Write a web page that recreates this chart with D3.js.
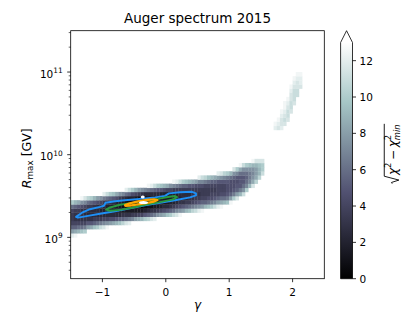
<!DOCTYPE html>
<html>
<head>
<meta charset="utf-8">
<script src="https://cdn.jsdelivr.net/npm/d3@7"></script>
<style>
body { margin: 0; background: #fff; }
text { font-family: "DejaVu Sans", sans-serif; fill: #000; }
</style>
</head>
<body>
<div id="chart"></div>
<script>
var width = 415, height = 332;
var plotLeft = 70.7, plotRight = 324.3, plotTop = 30.7, plotBottom = 278.7;

// grid of the scan: gamma steps and log10(R) steps
var gammaStep = 0.05, logRStep = 0.05;
// one entry per gamma column: [gamma at left edge, log10 R at lower edge, cells bottom -> top]
// letter = sqrt(chi2 - chi2min) in steps of 0.5 (A=0, B=0.5 ... Z=12.5), cells above 13 not stored
var chiColumns = [
    [-1.50, 9.00, "YQLIHHIMU"],
    [-1.45, 9.00, "ZRLIGGHLS"],
    [-1.40, 9.05, "SMIGGHKR"],
    [-1.35, 9.05, "TMIGGGJPZ"],
    [-1.30, 9.05, "UNIGFGIOX"],
    [-1.25, 9.10, "QKGFFHMV"],
    [-1.20, 9.10, "RKGFFHLU"],
    [-1.15, 9.10, "TLHFFGKS"],
    [-1.10, 9.10, "UMHFFFJQ"],
    [-1.05, 9.10, "WNHFEFIP"],
    [-1.00, 9.10, "XOIFEFHNY"],
    [-0.95, 9.10, "ZPIFEEGMW"],
    [-0.90, 9.15, "QJFEEGLU"],
    [-0.85, 9.15, "RJFDDFKT"],
    [-0.80, 9.15, "SKFDDEJR"],
    [-0.75, 9.15, "TLFDDEHP"],
    [-0.70, 9.15, "VLGDCDGO"],
    [-0.65, 9.15, "XMGDCCFMY"],
    [-0.60, 9.15, "YNGDCCELW"],
    [-0.55, 9.20, "OHDBBEJU"],
    [-0.50, 9.20, "QHDBBDIS"],
    [-0.45, 9.20, "RIDBACHQ"],
    [-0.40, 9.20, "SIDAABGP"],
    [-0.35, 9.20, "UKEBABFO"],
    [-0.30, 9.20, "VLFCBCFNZ"],
    [-0.25, 9.20, "XMGCBCFMY"],
    [-0.20, 9.20, "YNGDCCFLW"],
    [-0.15, 9.25, "PHDCCFKU"],
    [-0.10, 9.25, "QIEDDEKT"],
    [-0.05, 9.25, "RJFDDEJS"],
    [0.00, 9.25, "TKFDDEIR"],
    [0.05, 9.25, "ULGEDEIP"],
    [0.10, 9.25, "WMHEEEHOZ"],
    [0.15, 9.25, "XOIFEEHNY"],
    [0.20, 9.25, "ZPJGEFHMW"],
    [0.25, 9.30, "QKGFFHLU"],
    [0.30, 9.30, "SLHFFHLT"],
    [0.35, 9.30, "TMHGFHKS"],
    [0.40, 9.30, "VNIGGHKR"],
    [0.45, 9.30, "WOJHGHJQ"],
    [0.50, 9.30, "YPKHGHJOY"],
    [0.55, 9.30, "ZQLIHHJOW"],
    [0.60, 9.35, "SLIHHINV"],
    [0.65, 9.35, "TMJHHIMT"],
    [0.70, 9.35, "UNJIHILS"],
    [0.75, 9.35, "WOKIHILR"],
    [0.80, 9.35, "YQLIIIKQY"],
    [0.85, 9.35, "ZRMJIIKPX"],
    [0.90, 9.40, "SMJIIKOV"],
    [0.95, 9.40, "TNKJJKNU"],
    [1.00, 9.40, "ZQLJJJMS"],
    [1.05, 9.45, "UNKJJLPX"],
    [1.10, 9.45, "XQLKJKOU"],
    [1.15, 9.50, "SNKKKMRZ"],
    [1.20, 9.50, "WPMKKMPW"],
    [1.25, 9.55, "UOMLMPU"],
    [1.30, 9.60, "SONNPT"],
    [1.35, 9.60, "XRPOPSZ"],
    [1.40, 9.65, "VRQQSX"],
    [1.45, 9.70, "VSSTX"],
    [1.50, 9.75, "WUUX"],
    [1.70, 10.30, "YZ"],
    [1.75, 10.30, "XYZ"],
    [1.80, 10.30, "YXXYZ"],
    [1.85, 10.35, "XWXYZZ"],
    [1.90, 10.40, "XWWXYZ"],
    [1.95, 10.50, "XWWXXYZ"],
    [2.00, 10.60, "XWWWXYZ"],
    [2.05, 10.70, "WWXXYZ"],
    [2.10, 10.80, "XYYZ"]
];

// confidence contours [gamma, Rmax in GV]
var blueContour = [[-1.416, 1.77e9], [-1.322, 1.99e9], [-1.196, 2.19e9], [-1.038, 2.34e9], [-0.975, 2.41e9],
    [-0.951, 2.62e9], [-0.801, 2.73e9], [-0.644, 2.81e9], [-0.407, 2.92e9], [-0.170, 3.05e9], [-0.013, 3.18e9],
    [0.050, 3.41e9], [0.224, 3.51e9], [0.413, 3.56e9], [0.476, 3.41e9], [0.476, 3.22e9], [0.382, 3.05e9],
    [0.145, 2.81e9], [-0.091, 2.62e9], [-0.328, 2.44e9], [-0.565, 2.25e9], [-0.801, 2.07e9], [-1.038, 1.93e9],
    [-1.227, 1.82e9], [-1.385, 1.73e9]];
var greenContour = [[-0.943, 2.17e9], [-0.880, 2.30e9], [-0.722, 2.48e9], [-0.533, 2.61e9], [-0.328, 2.76e9],
    [-0.123, 2.92e9], [0.035, 3.08e9], [0.145, 3.16e9], [0.177, 3.07e9], [0.114, 2.88e9], [-0.091, 2.67e9],
    [-0.328, 2.47e9], [-0.533, 2.28e9], [-0.722, 2.15e9], [-0.880, 2.10e9]];
var orangeContour = [[-0.644, 2.46e9], [-0.565, 2.59e9], [-0.439, 2.73e9], [-0.297, 2.84e9], [-0.186, 2.89e9],
    [-0.131, 2.83e9], [-0.186, 2.71e9], [-0.297, 2.61e9], [-0.439, 2.51e9], [-0.565, 2.42e9], [-0.636, 2.41e9]];
var whiteSpots = [[-0.364, 3.08e9], [-0.352, 2.64e9]];

var xTicks = [-1, 0, 1, 2];
var yTicks = [1e9, 1e10, 1e11];
var cbarTicks = [0, 2, 4, 6, 8, 10, 12];

function bone(t) {
    t = Math.max(0, Math.min(1, t));
    var r = t < 0.746032 ? 0.652778 * t / 0.746032 : 0.652778 + (t - 0.746032) / 0.253968 * 0.347222;
    var g = t < 0.365079 ? 0.319444 * t / 0.365079
        : (t < 0.746032 ? 0.319444 + (t - 0.365079) / 0.380953 * 0.458334
        : 0.777778 + (t - 0.746032) / 0.253968 * 0.222222);
    var b = t < 0.365079 ? 0.444444 * t / 0.365079 : 0.444444 + (t - 0.365079) / 0.634921 * 0.555556;
    return d3.rgb(r * 255, g * 255, b * 255).toString();
}

var svg = d3.select("#chart").append("svg")
    .attr("width", width)
    .attr("height", height);

var x = d3.scaleLinear().domain([-1.5, 2.5]).range([plotLeft, plotRight]);
var y = d3.scaleLog().domain([Math.pow(10, 8.5), Math.pow(10, 11.5)]).range([plotBottom, plotTop]);
var colorScale = d3.scaleSequential(bone).domain([0, 13]);

svg.append("clipPath").attr("id", "plotClip")
    .append("rect")
    .attr("x", plotLeft).attr("y", plotTop)
    .attr("width", plotRight - plotLeft).attr("height", plotBottom - plotTop);

// heatmap cells
var cells = [];
chiColumns.forEach(function (col) {
    for (var k = 0; k < col[2].length; k++) {
        cells.push({ g: col[0], lr: col[1] + k * logRStep, v: (col[2].charCodeAt(k) - 65) / 2 });
    }
});

var plot = svg.append("g").attr("clip-path", "url(#plotClip)");
plot.selectAll("rect.cell")
    .data(cells)
    .enter()
    .append("rect")
    .attr("class", "cell")
    .attr("x", function (d) { return x(d.g); })
    .attr("width", function (d) { return x(d.g + gammaStep) - x(d.g) + 0.3; })
    .attr("y", function (d) { return y(Math.pow(10, d.lr + logRStep)); })
    .attr("height", function (d) { return y(Math.pow(10, d.lr)) - y(Math.pow(10, d.lr + logRStep)) + 0.3; })
    .attr("fill", function (d) { return colorScale(d.v); });

var contourLine = d3.line()
    .x(function (d) { return x(d[0]); })
    .y(function (d) { return y(d[1]); })
    .curve(d3.curveLinearClosed);

plot.append("path").datum(blueContour)
    .attr("d", contourLine).attr("fill", "none")
    .attr("stroke", "#1e8ff5").attr("stroke-width", 1.9).attr("stroke-linejoin", "round");
plot.append("path").datum(greenContour)
    .attr("d", contourLine).attr("fill", "none")
    .attr("stroke", "#2a9840").attr("stroke-width", 1.9).attr("stroke-linejoin", "round");
plot.append("path").datum(orangeContour)
    .attr("d", contourLine).attr("fill", "none")
    .attr("stroke", "#ffa500").attr("stroke-width", 2.2).attr("stroke-linejoin", "round");

plot.selectAll("ellipse.spot")
    .data(whiteSpots)
    .enter()
    .append("ellipse")
    .attr("class", "spot")
    .attr("cx", function (d) { return x(d[0]); })
    .attr("cy", function (d) { return y(d[1]); })
    .attr("rx", function (d, i) { return i === 0 ? 2 : 4.5; })
    .attr("ry", function (d, i) { return i === 0 ? 1.5 : 1.6; })
    .attr("fill", "#fff");

// frame
svg.append("rect")
    .attr("x", plotLeft).attr("y", plotTop)
    .attr("width", plotRight - plotLeft).attr("height", plotBottom - plotTop)
    .attr("fill", "none").attr("stroke", "#000").attr("stroke-width", 0.8);

// x axis
var xAxis = svg.append("g");
xAxis.selectAll("line")
    .data(xTicks).enter().append("line")
    .attr("x1", function (d) { return x(d); }).attr("x2", function (d) { return x(d); })
    .attr("y1", plotBottom).attr("y2", plotBottom + 3.5)
    .attr("stroke", "#000").attr("stroke-width", 0.8);
xAxis.selectAll("text")
    .data(xTicks).enter().append("text")
    .attr("x", function (d) { return x(d); })
    .attr("y", plotBottom + 17.5)
    .attr("text-anchor", "middle")
    .attr("font-size", 10.5)
    .text(function (d) { return d < 0 ? "\u2212" + Math.abs(d) : d; });

// y axis with log minor ticks
var minorTicks = y.ticks().filter(function (d) { return yTicks.indexOf(d) < 0; });
var yAxis = svg.append("g");
yAxis.selectAll("line.minor")
    .data(minorTicks).enter().append("line")
    .attr("class", "minor")
    .attr("x1", plotLeft).attr("x2", plotLeft - 2)
    .attr("y1", function (d) { return y(d); }).attr("y2", function (d) { return y(d); })
    .attr("stroke", "#000").attr("stroke-width", 0.6);
yAxis.selectAll("line.major")
    .data(yTicks).enter().append("line")
    .attr("class", "major")
    .attr("x1", plotLeft).attr("x2", plotLeft - 3.5)
    .attr("y1", function (d) { return y(d); }).attr("y2", function (d) { return y(d); })
    .attr("stroke", "#000").attr("stroke-width", 0.8);
var yLabels = yAxis.selectAll("text")
    .data(yTicks).enter().append("text")
    .attr("x", plotLeft - 8)
    .attr("y", function (d) { return y(d) + 5.5; })
    .attr("text-anchor", "end")
    .attr("font-size", 10.5);
yLabels.append("tspan").text("10");
yLabels.append("tspan")
    .attr("font-size", 7.4).attr("dy", -4.6)
    .text(function (d) { return Math.round(Math.log10(d)); });

// title and axis labels
svg.append("text")
    .attr("x", (plotLeft + plotRight) / 2).attr("y", 23.2)
    .attr("text-anchor", "middle")
    .attr("font-size", 13.5)
    .text("Auger spectrum 2015");

svg.append("text")
    .attr("x", (plotLeft + plotRight) / 2).attr("y", 309)
    .attr("text-anchor", "middle")
    .attr("font-size", 12)
    .attr("font-style", "italic")
    .text("\u03b3");

var yTitle = svg.append("text")
    .attr("transform", "translate(30.5,158.3) rotate(-90)")
    .attr("text-anchor", "middle")
    .attr("font-size", 12.5);
yTitle.append("tspan").attr("font-style", "italic").text("R");
yTitle.append("tspan").attr("font-size", 8.8).attr("dy", 2.8).text("max");
yTitle.append("tspan").attr("dy", -2.8).text(" [GV]");

// colorbar
var cbLeft = 340.6, cbRight = 352.5;
var cbarY = d3.scaleLinear().domain([0, 13]).range([plotBottom, 42.5]);
var grad = svg.append("defs").append("linearGradient")
    .attr("id", "boneGrad")
    .attr("x1", 0).attr("y1", 1).attr("x2", 0).attr("y2", 0);
[0, 0.365079, 0.746032, 1].forEach(function (t) {
    grad.append("stop").attr("offset", t).attr("stop-color", bone(t));
});
svg.append("rect")
    .attr("x", cbLeft).attr("y", cbarY(13))
    .attr("width", cbRight - cbLeft).attr("height", cbarY(0) - cbarY(13))
    .attr("fill", "url(#boneGrad)");
var cbOutline = [[cbLeft, cbarY(0)], [cbLeft, cbarY(13)], [(cbLeft + cbRight) / 2, plotTop],
    [cbRight, cbarY(13)], [cbRight, cbarY(0)]];
svg.append("path")
    .attr("d", d3.line()([[cbLeft + 0.4, cbarY(13)], [(cbLeft + cbRight) / 2, plotTop + 1], [cbRight - 0.4, cbarY(13)]]) + "Z")
    .attr("fill", bone(1));
svg.append("path")
    .attr("d", d3.line()(cbOutline) + "Z")
    .attr("fill", "none")
    .attr("stroke", "#000").attr("stroke-width", 0.8);

var cbAxis = svg.append("g");
cbAxis.selectAll("line")
    .data(cbarTicks).enter().append("line")
    .attr("x1", cbRight).attr("x2", cbRight + 3.5)
    .attr("y1", function (d) { return cbarY(d); }).attr("y2", function (d) { return cbarY(d); })
    .attr("stroke", "#000").attr("stroke-width", 0.8);
cbAxis.selectAll("text")
    .data(cbarTicks).enter().append("text")
    .attr("x", cbRight + 7)
    .attr("y", function (d) { return cbarY(d) + 3.9; })
    .attr("font-size", 10.5)
    .text(function (d) { return d; });

// colorbar label: sqrt(chi^2 - chi^2_min), laid out piece by piece
var fs = 12;
var labelPieces = [
    { t: "\u03c7", size: fs, italic: true, dy: 0 },
    { t: "2", size: 0.7 * fs, dy: -0.42 * fs },
    { t: "\u2212", size: fs, dy: 0, pad: 0.22 * fs },
    { t: "\u03c7", size: fs, italic: true, dy: 0 },
    { t: "2", size: 0.7 * fs, dy: -0.44 * fs, stack: true },
    { t: "min", size: 0.7 * fs, italic: true, dy: 0.28 * fs }
];
var cbTitle = svg.append("g").attr("transform", "translate(396.5,154) rotate(-90)");
var inner = cbTitle.append("g");
var cx = 0.72 * fs;
labelPieces.forEach(function (p) {
    var pad = p.pad || 0;
    var t = inner.append("text")
        .attr("x", cx + pad).attr("y", p.dy)
        .attr("font-size", p.size)
        .attr("font-style", p.italic ? "italic" : "normal")
        .text(p.t);
    var w = t.node().getComputedTextLength();
    if (!p.stack) cx += pad * 2 + w;
});
var total = cx;
inner.attr("transform", "translate(" + (-total / 2) + ",0)");
inner.append("path")
    .attr("d", d3.line()([[0, -0.36 * fs], [0.1 * fs, -0.42 * fs], [0.3 * fs, 0.2 * fs],
        [0.62 * fs, -1.02 * fs], [total + 0.5, -1.02 * fs]]))
    .attr("fill", "none").attr("stroke", "#000").attr("stroke-width", 0.9);
</script>
</body>
</html>
